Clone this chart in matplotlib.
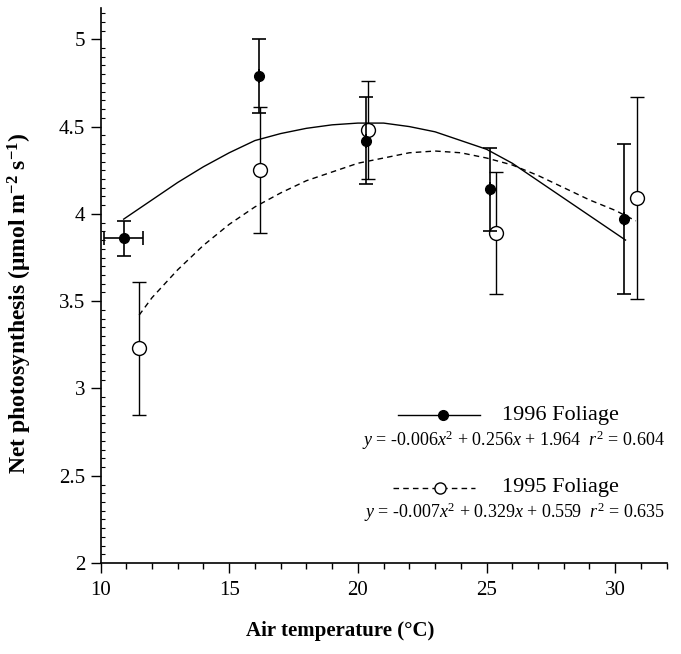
import matplotlib
matplotlib.use("Agg")
import matplotlib.pyplot as plt
from matplotlib.ticker import MultipleLocator

plt.rcParams['font.family'] = ['Liberation Serif', 'DejaVu Serif']
plt.rcParams['mathtext.fontset'] = 'custom'
plt.rcParams['mathtext.rm'] = 'Liberation Serif'
plt.rcParams['mathtext.it'] = 'Liberation Serif:italic'
plt.rcParams['mathtext.bf'] = 'Liberation Serif:bold'

# 1996 foliage (filled)
x96 = [10.9, 16.15, 20.3, 25.15, 30.35]
y96 = [3.86, 4.79, 4.42, 4.14, 3.97]
yerr96 = [0.10, 0.21, 0.25, 0.24, 0.43]
xerr96 = [0.75, 0, 0, 0, 0]

# 1995 foliage (open)
x95 = [11.5, 16.2, 20.4, 25.35, 30.85]
y95 = [3.23, 4.25, 4.48, 3.89, 4.09]
yerr95 = [0.38, 0.36, 0.28, 0.35, 0.58]

# fitted curves
fit96_x = [10.9, 12, 13, 14, 15, 16, 17, 18, 19, 20, 21, 22, 23, 24, 25, 26, 27, 28, 29, 30.4]
fit96_y = [3.97, 4.08, 4.18, 4.27, 4.35, 4.42, 4.46, 4.49, 4.51, 4.52, 4.52, 4.50, 4.47,
           4.42, 4.37, 4.29, 4.19, 4.09, 3.99, 3.85]
fit95_x = [11.5, 12, 13, 14, 15, 16, 17, 18, 19, 20, 21, 22, 23, 24, 25, 26, 27, 28, 29, 30, 30.8]
fit95_y = [3.42, 3.52, 3.68, 3.82, 3.94, 4.04, 4.12, 4.19, 4.24, 4.29, 4.32, 4.35, 4.36,
           4.35, 4.32, 4.28, 4.22, 4.15, 4.08, 4.02, 3.96]

eq96 = r'$y$ = -0.006$x^2$ + 0.256$x$ + 1.964  $r^2$ = 0.604'
eq95 = r'$y$ = -0.007$x^2$ + 0.329$x$ + 0.559  $r^2$ = 0.635'
lab96 = '1996 Foliage'
lab95 = '1995 Foliage'

fig = plt.figure(figsize=(6.81, 6.54), dpi=100)
ax = fig.add_axes([0.1476, 0.139, 0.8314, 0.849])

ax.plot(fit96_x, fit96_y, color='black', lw=1.0, ls='-')
ax.plot(fit95_x, fit95_y, color='black', lw=1.0, ls=(0, (4, 3)))

ax.errorbar(x96, y96, yerr=yerr96, xerr=xerr96, fmt='o', color='black', mfc='black',
            mec='black', ms=7, elinewidth=1.2, capsize=5, capthick=1.2, zorder=4)
ax.errorbar(x95, y95, yerr=yerr95, fmt='o', color='black', mfc='white',
            mec='black', ms=10, elinewidth=1.0, capsize=5, capthick=1.0, zorder=3)

ax.set_xlim(10, 32)
ax.set_ylim(2, 5.18)
ax.xaxis.set_major_locator(MultipleLocator(5))
ax.xaxis.set_minor_locator(MultipleLocator(1))
ax.yaxis.set_major_locator(MultipleLocator(0.5))
ax.yaxis.set_minor_locator(MultipleLocator(0.05))
ax.yaxis.set_major_formatter(plt.FuncFormatter(lambda v, p: ('%g' % v)))
ax.tick_params(axis='x', which='major', direction='out', length=7, width=1, labelsize=15, pad=6)
ax.tick_params(axis='x', which='minor', direction='out', length=4, width=1)
ax.tick_params(axis='y', which='major', direction='out', length=7, width=1, labelsize=15, pad=4)
ax.tick_params(axis='y', which='minor', direction='in', length=3, width=0.8)
for s in ['top', 'right']:
    ax.spines[s].set_visible(False)
for s in ['left', 'bottom']:
    ax.spines[s].set_linewidth(1.2)

ax.set_xlabel('Air temperature (°C)', fontsize=15, fontweight='bold')
ax.xaxis.set_label_coords(0.423, -0.105)
ax.set_ylabel('Net photosynthesis (μmol m$^{\\mathbf{-2}}$ s$^{\\mathbf{-1}}$)',
              fontsize=17, fontweight='bold')
ax.yaxis.set_label_coords(-0.118, 0.468)

# legend drawn manually
T = ax.transAxes
ax.plot([0.526, 0.671], [0.266, 0.266], transform=T, color='black', lw=1.0)
ax.plot([0.605], [0.266], transform=T, marker='o', color='black', ms=7, ls='none')
ax.text(0.709, 0.266, lab96, transform=T, fontsize=16, va='center', ha='left')
ax.text(0.997, 0.222, eq96, transform=T, fontsize=13, va='center', ha='right')

ax.plot([0.517, 0.662], [0.136, 0.136], transform=T, color='black', lw=1.0, ls=(0, (4, 3)))
ax.plot([0.600], [0.136], transform=T, marker='o', color='black', mfc='white', ms=8, ls='none')
ax.text(0.709, 0.136, lab95, transform=T, fontsize=16, va='center', ha='left')
ax.text(0.997, 0.092, eq95, transform=T, fontsize=13, va='center', ha='right')

fig.savefig('out.png', dpi=100)
